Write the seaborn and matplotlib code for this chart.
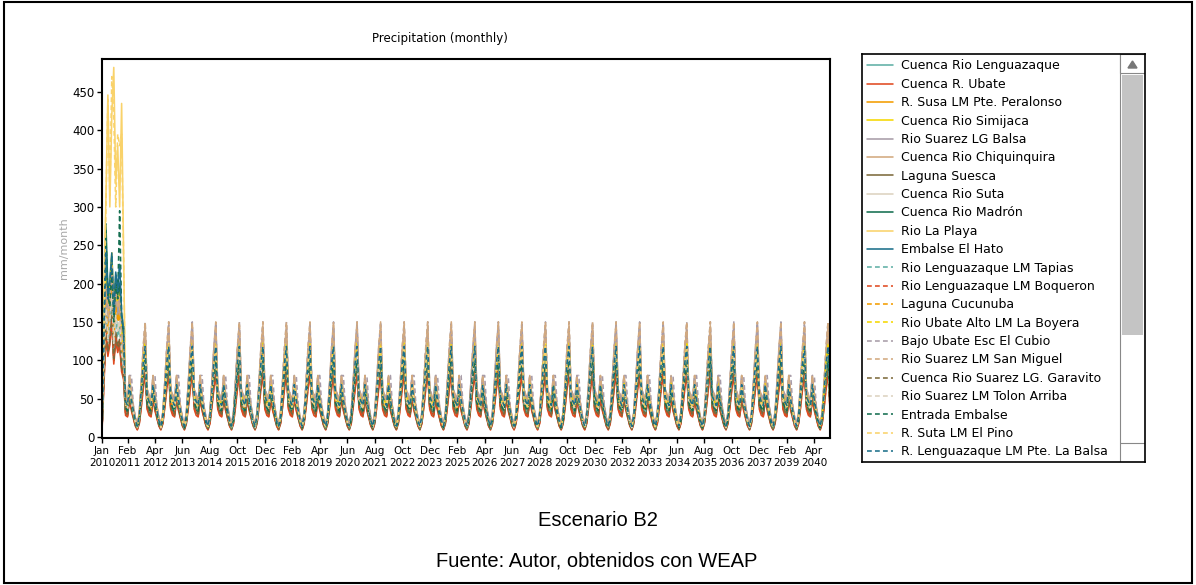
import numpy as np
import matplotlib
matplotlib.use("Agg")
import matplotlib.pyplot as plt
import seaborn as sns
from matplotlib.patches import Rectangle, Polygon

# ---- data: precipitation mm/month, Jan 2010 - Dec 2040 ----
# first year (2010) values, Jan..Dec, then the typical year that WEAP repeats 2011-2040
lenguazaque_2010 = [12, 95, 170, 130, 150, 185, 120, 160, 140, 150, 110, 95]
lenguazaque_typ = [38, 34, 62, 44, 30, 19, 12, 22, 52, 82, 105, 46]
ubate_2010 = [8, 70, 130, 105, 120, 150, 95, 125, 110, 120, 85, 75]
ubate_typ = [28, 26, 48, 34, 24, 14, 9, 17, 38, 62, 82, 36]
susa_2010 = [18, 105, 185, 140, 170, 210, 135, 180, 155, 165, 120, 105]
susa_typ = [42, 37, 64, 45, 31, 20, 13, 25, 55, 92, 110, 50]
simijaca_2010 = [22, 125, 215, 165, 195, 240, 160, 205, 175, 190, 140, 125]
simijaca_typ = [48, 42, 72, 50, 35, 22, 15, 28, 62, 102, 125, 55]
suarez_balsa_2010 = [15, 110, 190, 150, 175, 215, 145, 185, 160, 175, 125, 110]
suarez_balsa_typ = [52, 45, 78, 54, 38, 24, 16, 30, 68, 110, 140, 60]
chiquinquira_2010 = [20, 120, 200, 160, 185, 225, 150, 195, 170, 185, 135, 120]
chiquinquira_typ = [55, 47, 80, 56, 40, 25, 17, 32, 70, 112, 145, 62]
suesca_2010 = [10, 80, 140, 110, 125, 160, 100, 135, 115, 125, 90, 80]
suesca_typ = [32, 28, 52, 38, 26, 15, 10, 19, 44, 70, 92, 40]
suta_2010 = [14, 95, 165, 125, 150, 180, 120, 155, 135, 150, 105, 95]
suta_typ = [40, 35, 60, 42, 30, 18, 12, 22, 50, 80, 100, 45]
madron_2010 = [6, 150, 278, 190, 175, 225, 155, 205, 185, 200, 150, 135]
madron_typ = [36, 32, 58, 40, 28, 17, 11, 21, 48, 78, 98, 44]
la_playa_2010 = [25, 200, 310, 446, 300, 420, 482, 330, 380, 300, 435, 240]
la_playa_typ = [46, 40, 68, 48, 34, 21, 14, 26, 58, 96, 122, 52]
el_hato_2010 = [5, 140, 255, 185, 205, 240, 165, 215, 195, 225, 160, 145]
el_hato_typ = [45, 40, 66, 47, 33, 20, 13, 26, 58, 93, 116, 52]
tapias_2010 = [10, 90, 160, 125, 140, 175, 115, 150, 130, 145, 105, 90]
tapias_typ = [36, 33, 60, 42, 29, 18, 11, 21, 50, 80, 102, 44]
boqueron_2010 = [9, 75, 135, 110, 125, 155, 100, 130, 115, 125, 90, 80]
boqueron_typ = [30, 27, 50, 36, 25, 15, 10, 18, 40, 65, 86, 38]
cucunuba_2010 = [16, 100, 175, 135, 160, 200, 130, 170, 150, 160, 115, 100]
cucunuba_typ = [40, 36, 62, 44, 30, 19, 13, 24, 54, 88, 108, 48]
boyera_2010 = [20, 120, 205, 160, 190, 230, 155, 200, 170, 185, 135, 120]
boyera_typ = [47, 41, 70, 49, 34, 21, 14, 27, 60, 100, 122, 54]
cubio_2010 = [18, 115, 195, 155, 180, 220, 150, 190, 165, 180, 130, 115]
cubio_typ = [55, 48, 80, 80, 40, 25, 16, 32, 72, 115, 150, 62]
san_miguel_2010 = [19, 118, 198, 158, 182, 222, 148, 192, 168, 182, 132, 118]
san_miguel_typ = [54, 46, 80, 55, 38, 24, 16, 31, 70, 118, 150, 60]
garavito_2010 = [11, 82, 145, 112, 128, 165, 102, 138, 118, 128, 92, 82]
garavito_typ = [34, 30, 54, 39, 27, 16, 10, 20, 46, 72, 94, 41]
tolon_2010 = [15, 98, 168, 128, 152, 185, 122, 158, 138, 152, 108, 98]
tolon_typ = [42, 37, 62, 44, 31, 19, 12, 23, 52, 82, 104, 47]
entrada_2010 = [7, 145, 260, 185, 170, 220, 150, 200, 180, 295, 155, 140]
entrada_typ = [38, 34, 60, 42, 29, 18, 12, 22, 50, 80, 100, 45]
el_pino_2010 = [20, 150, 300, 440, 315, 470, 420, 300, 395, 380, 395, 235]
el_pino_typ = [44, 39, 66, 46, 33, 20, 13, 25, 56, 94, 118, 50]
la_balsa_2010 = [6, 135, 240, 180, 200, 235, 160, 210, 190, 220, 155, 140]
la_balsa_typ = [46, 41, 68, 48, 34, 21, 14, 27, 60, 96, 118, 53]

names = ["Cuenca Rio Lenguazaque", "Cuenca R. Ubate", "R. Susa LM Pte. Peralonso",
         "Cuenca Rio Simijaca", "Rio Suarez LG Balsa", "Cuenca Rio Chiquinquira",
         "Laguna Suesca", "Cuenca Rio Suta", "Cuenca Rio Madrón", "Rio La Playa",
         "Embalse El Hato", "Rio Lenguazaque LM Tapias", "Rio Lenguazaque LM Boqueron",
         "Laguna Cucunuba", "Rio Ubate Alto LM La Boyera", "Bajo Ubate Esc El Cubio",
         "Rio Suarez LM San Miguel", "Cuenca Rio Suarez LG. Garavito",
         "Rio Suarez LM Tolon Arriba", "Entrada Embalse", "R. Suta LM El Pino",
         "R. Lenguazaque LM Pte. La Balsa"]
first_year = [lenguazaque_2010, ubate_2010, susa_2010, simijaca_2010, suarez_balsa_2010,
              chiquinquira_2010, suesca_2010, suta_2010, madron_2010, la_playa_2010,
              el_hato_2010, tapias_2010, boqueron_2010, cucunuba_2010, boyera_2010,
              cubio_2010, san_miguel_2010, garavito_2010, tolon_2010, entrada_2010,
              el_pino_2010, la_balsa_2010]
typical_year = [lenguazaque_typ, ubate_typ, susa_typ, simijaca_typ, suarez_balsa_typ,
                chiquinquira_typ, suesca_typ, suta_typ, madron_typ, la_playa_typ,
                el_hato_typ, tapias_typ, boqueron_typ, cucunuba_typ, boyera_typ,
                cubio_typ, san_miguel_typ, garavito_typ, tolon_typ, entrada_typ,
                el_pino_typ, la_balsa_typ]
base_colors = ["#5fb0a5", "#e04a20", "#f39c00", "#f5d800", "#a89ca8", "#d2a97f",
               "#7d6a3c", "#dcd2c0", "#146e50", "#f9d26a", "#1c6f8a"]
colors = base_colors + base_colors

tick_months = ["Jan", "Feb", "Apr", "Jun", "Aug", "Oct", "Dec", "Feb", "Apr", "Jun", "Aug",
               "Oct", "Dec", "Feb", "Apr", "Jun", "Aug", "Oct", "Dec", "Feb", "Apr", "Jun",
               "Aug", "Oct", "Dec", "Feb", "Apr"]
tick_years = [2010, 2011, 2012, 2013, 2014, 2015, 2016, 2018, 2019, 2020, 2021, 2022, 2023,
              2025, 2026, 2027, 2028, 2029, 2030, 2032, 2033, 2034, 2035, 2036, 2037, 2039, 2040]

start_year, n_years = 2010, 31
month_idx = np.arange(n_years * 12)
month_names = ["Jan", "Feb", "Mar", "Apr", "May", "Jun", "Jul", "Aug", "Sep", "Oct", "Nov", "Dec"]
tick_pos = [(y - start_year) * 12 + month_names.index(m) for m, y in zip(tick_months, tick_years)]

sns.set_theme(style="white")
plt.rcParams['font.family'] = ['DejaVu Sans']
plt.rcParams.update({"text.color": "black", "axes.labelcolor": "black",
                     "xtick.color": "black", "ytick.color": "black"})

W, H = 1196, 585
fig = plt.figure(figsize=(W / 100, H / 100), dpi=100)

def frac(x0, y0, x1, y1):
    # pixel box (top-left origin) -> figure fraction [l, b, w, h]
    return [x0 / W, 1 - y1 / H, (x1 - x0) / W, (y1 - y0) / H]

ax = fig.add_axes(frac(102, 59, 830, 438))
for i, name in enumerate(names):
    vals = np.array(first_year[i] + typical_year[i] * (n_years - 1), dtype=float)
    ls = (0, (3, 2)) if i >= 11 else "-"
    sns.lineplot(x=month_idx, y=vals, ax=ax, color=colors[i], linestyle=ls,
                 linewidth=1.15, label=name, legend=False)

ax.set_xlim(0, 371)
ax.set_ylim(-1.5, 493)
ax.set_yticks(range(0, 451, 50))
ax.set_xticks(tick_pos)
ax.set_xticklabels([f"{m}\n{y}" for m, y in zip(tick_months, tick_years)], fontsize=7.5,
                   linespacing=1.35)
ax.tick_params(axis="y", labelsize=8.5, length=3.5, width=1, direction="out", left=True, pad=2)
ax.tick_params(axis="x", length=3.5, width=1, direction="out", bottom=True, pad=2)
for s in ax.spines.values():
    s.set_color("black")
    s.set_linewidth(1.5)
ax.set_xlabel("")
ax.set_ylabel("mm/month", color="#a8a8a8", fontsize=8, labelpad=2)
ax.set_title("Precipitation (monthly)", fontsize=8.5, x=0.464, pad=12)

# legend panel with scrollbar
lx0, ly0, lx1, ly1 = 862, 54, 1145, 462
axl = fig.add_axes(frac(lx0, ly0, lx1, ly1))
axl.set_xlim(lx0, lx1)
axl.set_ylim(ly1, ly0)
axl.set_xticks([])
axl.set_yticks([])
for s in axl.spines.values():
    s.set_color("black")
    s.set_linewidth(1.2)
handles = ax.get_lines()[:len(names)]
axl.legend(handles, names, loc="upper left", bbox_to_anchor=(867, 59.5),
           bbox_transform=axl.transData, frameon=False, fontsize=9,
           handlelength=2.1, handletextpad=0.62, labelspacing=0.43,
           borderpad=0, borderaxespad=0)
axl.add_patch(Rectangle((1120, 54), 25, 408, facecolor="white", edgecolor="#888888", lw=0.8))
axl.add_patch(Rectangle((1120, 54), 25, 19, facecolor="white", edgecolor="#888888", lw=0.8))
axl.add_patch(Polygon([[1128, 68], [1137, 68], [1132.5, 61]], closed=True, color="#777777"))
axl.add_patch(Rectangle((1122, 75), 21, 260, facecolor="#c4c4c4", edgecolor="none"))
axl.plot([1120, 1145], [443, 443], color="#888888", lw=0.8)

# outer frame and captions
fig.add_artist(Rectangle((4 / W, 1 - 583 / H), 1188 / W, 581 / H, transform=fig.transFigure,
                         fill=False, edgecolor="black", lw=1.5))
fig.text(598 / W, 1 - 521 / H, "Escenario B2", ha="center", va="center",
         fontsize=14.5, family="Liberation Sans")
fig.text(597 / W, 1 - 561 / H, "Fuente: Autor, obtenidos con WEAP", ha="center",
         va="center", fontsize=14.5, family="Liberation Sans")

fig.savefig("out.png", dpi=100)
